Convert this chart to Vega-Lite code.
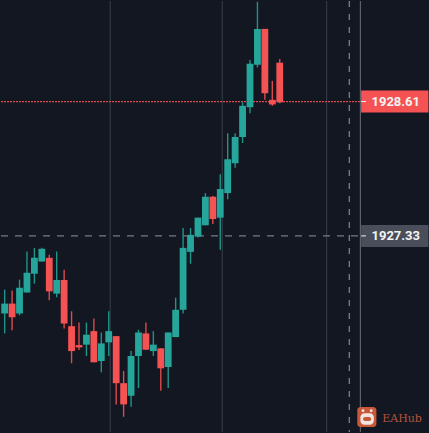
{"$schema":"https://vega.github.io/schema/vega-lite/v6.json","width":429,"height":433,"autosize":{"type":"fit","contains":"padding"},"padding":0,"background":"#131722","view":{"stroke":null,"fill":"#131722"},
"datasets":{"candles":[
{"i":0,"o":1926.591,"h":1926.818,"l":1926.401,"c":1926.685},
{"i":1,"o":1926.685,"h":1926.811,"l":1926.432,"c":1926.555},
{"i":2,"o":1926.591,"h":1926.913,"l":1926.574,"c":1926.837},
{"i":3,"o":1926.792,"h":1927.181,"l":1926.792,"c":1926.979},
{"i":4,"o":1926.970,"h":1927.216,"l":1926.875,"c":1927.121},
{"i":5,"o":1927.086,"h":1927.216,"l":1927.086,"c":1927.207},
{"i":6,"o":1927.121,"h":1927.150,"l":1926.717,"c":1926.802},
{"i":7,"o":1926.780,"h":1927.181,"l":1926.745,"c":1926.910},
{"i":8,"o":1926.910,"h":1927.008,"l":1926.448,"c":1926.496},
{"i":9,"o":1926.470,"h":1926.612,"l":1926.117,"c":1926.233},
{"i":10,"o":1926.290,"h":1926.505,"l":1926.243,"c":1926.268},
{"i":11,"o":1926.294,"h":1926.505,"l":1926.186,"c":1926.389},
{"i":12,"o":1926.423,"h":1926.543,"l":1926.126,"c":1926.126},
{"i":13,"o":1926.138,"h":1926.410,"l":1926.031,"c":1926.306},
{"i":14,"o":1926.316,"h":1926.612,"l":1926.186,"c":1926.423},
{"i":15,"o":1926.375,"h":1926.375,"l":1925.725,"c":1925.927},
{"i":16,"o":1925.927,"h":1926.044,"l":1925.607,"c":1925.725},
{"i":17,"o":1925.807,"h":1926.233,"l":1925.702,"c":1926.186},
{"i":18,"o":1926.186,"h":1926.436,"l":1925.880,"c":1926.410},
{"i":19,"o":1926.401,"h":1926.505,"l":1926.243,"c":1926.246},
{"i":20,"o":1926.233,"h":1926.423,"l":1926.186,"c":1926.294},
{"i":21,"o":1926.259,"h":1926.259,"l":1925.854,"c":1926.069},
{"i":22,"o":1926.081,"h":1926.410,"l":1925.880,"c":1926.410},
{"i":23,"o":1926.366,"h":1926.742,"l":1926.366,"c":1926.626},
{"i":24,"o":1926.626,"h":1927.406,"l":1926.591,"c":1927.216},
{"i":25,"o":1927.178,"h":1927.406,"l":1927.065,"c":1927.340},
{"i":26,"o":1927.323,"h":1927.504,"l":1927.314,"c":1927.504},
{"i":27,"o":1927.431,"h":1927.738,"l":1927.431,"c":1927.703},
{"i":28,"o":1927.703,"h":1927.709,"l":1927.444,"c":1927.491},
{"i":29,"o":1927.504,"h":1927.918,"l":1927.197,"c":1927.776},
{"i":30,"o":1927.738,"h":1928.307,"l":1927.678,"c":1928.060},
{"i":31,"o":1928.022,"h":1928.307,"l":1927.978,"c":1928.272},
{"i":32,"o":1928.272,"h":1928.603,"l":1928.215,"c":1928.569},
{"i":33,"o":1928.556,"h":1929.005,"l":1928.499,"c":1928.970},
{"i":34,"o":1928.961,"h":1929.560,"l":1928.935,"c":1929.302},
{"i":35,"o":1929.302,"h":1929.302,"l":1928.626,"c":1928.689},
{"i":36,"o":1928.626,"h":1928.806,"l":1928.569,"c":1928.582},
{"i":37,"o":1928.980,"h":1929.015,"l":1928.594,"c":1928.603}
]},
"layer":[
{"data":{"values":[{"i":14.2},{"i":29.27},{"i":43.3}]},"mark":{"type":"rule","color":"#343846","strokeWidth":1.2},
 "encoding":{"x":{"field":"i","type":"quantitative","axis":null,"scale":{"domain":[-0.491,56.94],"nice":false,"zero":false,"padding":0}}}},
{"data":{"values":[{"i":46.36}]},"mark":{"type":"rule","color":"#6f7a8a","strokeWidth":1.4,"strokeDash":[6,7]},
 "encoding":{"x":{"field":"i","type":"quantitative","axis":null}}},
{"data":{"values":[{"p":1927.33,"a":-0.491,"b":47.8}]},"mark":{"type":"rule","color":"#787b86","strokeWidth":1.4,"strokeDash":[7,7]},
 "encoding":{"x":{"field":"a","type":"quantitative","axis":null},"x2":{"field":"b"},"y":{"field":"p","type":"quantitative","axis":null,"scale":{"domain":[1925.462,1929.5676],"nice":false,"zero":false,"padding":0}}}},
{"data":{"values":[{"p":1928.61,"a":-0.491,"b":47.8}]},"mark":{"type":"rule","color":"#d84a50","strokeWidth":1.3,"strokeDash":[2,1]},
 "encoding":{"x":{"field":"a","type":"quantitative","axis":null},"x2":{"field":"b"},"y":{"field":"p","type":"quantitative","axis":null}}},
{"data":{"name":"candles"},"transform":[{"calculate":"datum.c>=datum.o?'up':'down'","as":"d"}],"mark":{"type":"rule","strokeWidth":1.4},
 "encoding":{"x":{"field":"i","type":"quantitative","axis":null},"y":{"field":"h","type":"quantitative","axis":null},"y2":{"field":"l"},"color":{"field":"d","type":"nominal","legend":null,"scale":{"domain":["up","down"],"range":["#1f9488","#e0494b"]}}}},
{"data":{"name":"candles"},"transform":[{"calculate":"datum.c>=datum.o?'up':'down'","as":"d"}],"mark":{"type":"bar","size":6.8,"opacity":1},
 "encoding":{"x":{"field":"i","type":"quantitative","axis":null},"y":{"field":"o","type":"quantitative","axis":null},"y2":{"field":"c"},"fill":{"field":"d","type":"nominal","legend":null,"scale":{"domain":["up","down"],"range":["#26a69a","#f55353"]}}}},
{"data":{"values":[{"i":47.85}]},"mark":{"type":"rule","color":"#5d606b","strokeWidth":1.2},
 "encoding":{"x":{"field":"i","type":"quantitative","axis":null}}},
{"data":{"values":[{"a":47.95,"b":57,"t":1928.715,"u":1928.505}]},"mark":{"type":"rect","color":"#f55353"},
 "encoding":{"x":{"field":"a","type":"quantitative","axis":null},"x2":{"field":"b"},"y":{"field":"t","type":"quantitative","axis":null},"y2":{"field":"u"}}},
{"data":{"values":[{"a":47.95,"b":57,"t":1927.435,"u":1927.225}]},"mark":{"type":"rect","color":"#4a4e5a"},
 "encoding":{"x":{"field":"a","type":"quantitative","axis":null},"x2":{"field":"b"},"y":{"field":"t","type":"quantitative","axis":null},"y2":{"field":"u"}}},
{"data":{"values":[{"a":47.95,"b":48.6,"p":1928.61},{"a":47.95,"b":48.6,"p":1927.33}]},"mark":{"type":"rule","color":"#f0f0f0","strokeWidth":1},
 "encoding":{"x":{"field":"a","type":"quantitative","axis":null},"x2":{"field":"b"},"y":{"field":"p","type":"quantitative","axis":null}}},
{"data":{"values":[{"i":52.6,"p":1928.61,"t":"1928.61"},{"i":52.6,"p":1927.33,"t":"1927.33"}]},"mark":{"type":"text","font":"Roboto","fontSize":13,"fontWeight":"bold","color":"#f2f3f5","align":"center","baseline":"middle"},
 "encoding":{"x":{"field":"i","type":"quantitative","axis":null},"y":{"field":"p","type":"quantitative","axis":null},"text":{"field":"t","type":"nominal"}}},
{"data":{"values":[{"a":47.43,"b":50.0,"t":1925.699,"u":1925.510}]},"mark":{"type":"rect","color":"#c8583a","cornerRadius":3},
 "encoding":{"x":{"field":"a","type":"quantitative","axis":null},"x2":{"field":"b"},"y":{"field":"t","type":"quantitative","axis":null},"y2":{"field":"u"}}},
{"data":{"values":[{"a":47.85,"b":49.65,"t":1925.640,"u":1925.530}]},"mark":{"type":"rect","color":"#f3e6e0","cornerRadius":4},
 "encoding":{"x":{"field":"a","type":"quantitative","axis":null},"x2":{"field":"b"},"y":{"field":"t","type":"quantitative","axis":null},"y2":{"field":"u"}}},
{"data":{"values":[{"a":48.2,"b":49.3,"t":1925.604,"u":1925.566}]},"mark":{"type":"rect","color":"#c8583a","cornerRadius":2},
 "encoding":{"x":{"field":"a","type":"quantitative","axis":null},"x2":{"field":"b"},"y":{"field":"t","type":"quantitative","axis":null},"y2":{"field":"u"}}},
{"data":{"values":[{"i":48.2,"p":1925.665},{"i":49.3,"p":1925.665}]},"mark":{"type":"point","filled":true,"color":"#f3e6e0","size":8,"opacity":1},
 "encoding":{"x":{"field":"i","type":"quantitative","axis":null},"y":{"field":"p","type":"quantitative","axis":null}}},
{"data":{"values":[{"i":50.78,"p":1925.557,"t":"EAHub"}]},"mark":{"type":"text","font":"DejaVu Serif","fontSize":11,"color":"#b5533a","align":"left","baseline":"alphabetic"},
 "encoding":{"x":{"field":"i","type":"quantitative","axis":null},"y":{"field":"p","type":"quantitative","axis":null},"text":{"field":"t","type":"nominal"}}}
],
"resolve":{"scale":{"color":"independent","fill":"independent"}}
}
